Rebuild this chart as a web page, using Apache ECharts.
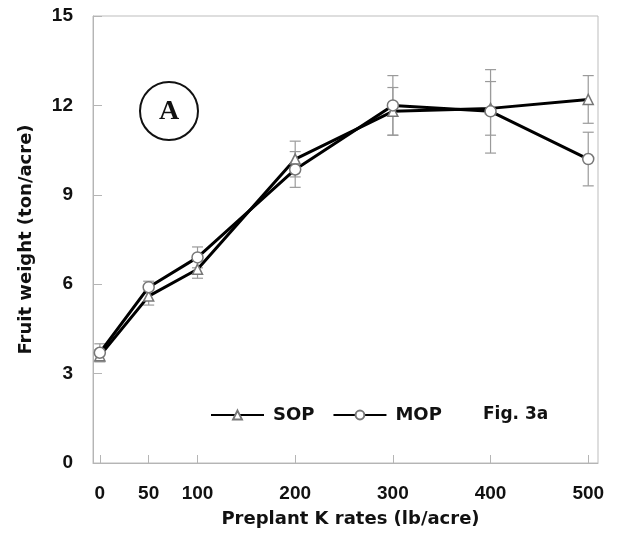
<!DOCTYPE html>
<html>
<head>
<meta charset="utf-8">
<script src="https://cdn.jsdelivr.net/npm/echarts@6/dist/echarts.min.js"></script>
<style>html,body{margin:0;padding:0;background:#fff}#c{width:617px;height:533px}</style>
</head>
<body>
<div id="c"></div>
<script>
var rates = [0, 50, 100, 200, 300, 400, 500];
var sopValues = [3.6, 5.6, 6.5, 10.2, 11.8, 11.9, 12.2];
var sopErr = [0.2, 0.3, 0.3, 0.6, 0.8, 0.9, 0.8];
var mopValues = [3.7, 5.9, 6.9, 9.85, 12.0, 11.8, 10.2];
var mopErr = [0.3, 0.2, 0.35, 0.6, 1.0, 1.4, 0.9];
var yTicks = [0, 3, 6, 9, 12, 15];

function pts(vals) { return rates.map(function (r, i) { return [r, vals[i]]; }); }
function errs(vals, e) { return rates.map(function (r, i) { return [r, vals[i] - e[i], vals[i] + e[i]]; }); }

function errRender(params, api) {
  var x = api.value(0);
  var lo = api.coord([x, api.value(1)]);
  var hi = api.coord([x, api.value(2)]);
  var hw = 5.5;
  var st = { stroke: '#9a9a9a', lineWidth: 1.2 };
  return {
    type: 'group',
    children: [
      { type: 'line', shape: { x1: lo[0], y1: lo[1], x2: hi[0], y2: hi[1] }, style: st },
      { type: 'line', shape: { x1: lo[0] - hw, y1: lo[1], x2: lo[0] + hw, y2: lo[1] }, style: st },
      { type: 'line', shape: { x1: hi[0] - hw, y1: hi[1], x2: hi[0] + hw, y2: hi[1] }, style: st }
    ]
  };
}

var numFont = 'Liberation Sans, Arial, sans-serif';
var titleFont = 'DejaVu Sans, sans-serif';
var chart = echarts.init(document.getElementById('c'), null, { renderer: 'canvas' });
chart.setOption({
  animation: false,
  backgroundColor: '#fff',
  grid: { left: 93, right: 19, top: 16, bottom: 70, show: true, borderColor: '#bdbdbd', borderWidth: 1 },
  legend: {
    left: 205, top: 401,
    itemWidth: 53, itemHeight: 11, itemGap: 18,
    data: ['SOP', 'MOP'],
    textStyle: { fontFamily: titleFont, fontWeight: 'bold', fontSize: 18, color: '#111', padding: [0, 0, 0, 4] }
  },
  xAxis: {
    type: 'value', min: -7, max: 510,
    name: 'Preplant K rates (lb/acre)', nameLocation: 'middle', nameGap: 47,
    nameTextStyle: { fontFamily: titleFont, fontWeight: 'bold', fontSize: 18, color: '#111', padding: [0, 0, 0, 10] },
    axisLine: { show: true, onZero: false, lineStyle: { color: '#b5b5b5' } },
    axisTick: { show: true, inside: true, length: 8, customValues: rates, lineStyle: { color: '#b5b5b5' } },
    axisLabel: { customValues: rates, margin: 21, fontFamily: numFont, fontWeight: 'bold', fontSize: 19, color: '#111' },
    splitLine: { show: false }
  },
  yAxis: {
    type: 'value', min: 0, max: 15, interval: 3,
    name: 'Fruit weight (ton/acre)', nameLocation: 'middle', nameGap: 58, nameRotate: 90,
    nameTextStyle: { fontFamily: titleFont, fontWeight: 'bold', fontSize: 18, color: '#111' },
    axisLine: { show: true, onZero: false, lineStyle: { color: '#b5b5b5' } },
    axisTick: { show: true, inside: true, length: 9, lineStyle: { color: '#b5b5b5' } },
    axisLabel: { margin: 20, fontFamily: numFont, fontWeight: 'bold', fontSize: 19, color: '#111',
      formatter: function (v) { return yTicks.indexOf(v) >= 0 ? String(v) : ''; } },
    splitLine: { show: false }
  },
  graphic: [
    { type: 'circle', shape: { cx: 169, cy: 111, r: 29 }, style: { fill: '#fff', stroke: '#111', lineWidth: 2 }, z: 1 },
    { type: 'text', x: 169, y: 112, style: { text: 'A', fontFamily: 'Liberation Serif, DejaVu Serif, serif', fontWeight: 'bold', fontSize: 28, fill: '#111', align: 'center', verticalAlign: 'middle' }, z: 2 },
    { type: 'text', x: 483, y: 415, style: { text: 'Fig. 3a', fontFamily: titleFont, fontWeight: 'bold', fontSize: 17, fill: '#111', verticalAlign: 'middle' } }
  ],
  series: [
    { type: 'custom', name: 'errSOP', renderItem: errRender, data: errs(sopValues, sopErr), z: 1, silent: true },
    { type: 'custom', name: 'errMOP', renderItem: errRender, data: errs(mopValues, mopErr), z: 1, silent: true },
    {
      type: 'line', name: 'SOP', data: pts(sopValues), z: 3,
      symbol: 'triangle', symbolSize: 10, showAllSymbol: true,
      lineStyle: { color: '#000', width: 3 },
      itemStyle: { color: '#fff', borderColor: '#777', borderWidth: 1.5 }
    },
    {
      type: 'line', name: 'MOP', data: pts(mopValues), z: 3,
      symbol: 'circle', symbolSize: 11, showAllSymbol: true,
      lineStyle: { color: '#000', width: 3 },
      itemStyle: { color: '#fff', borderColor: '#777', borderWidth: 1.5 }
    }
  ]
});
</script>
</body>
</html>
